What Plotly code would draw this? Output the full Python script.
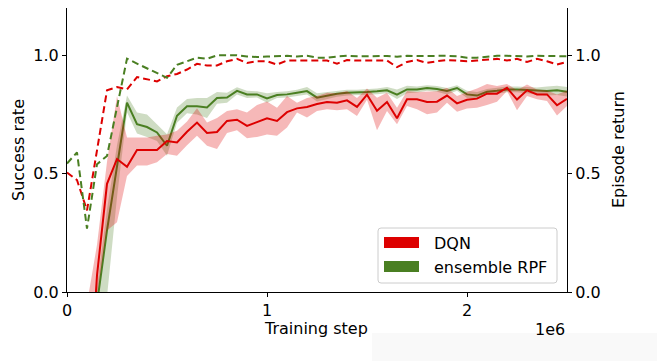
import plotly.graph_objects as go

# ---------------- data ----------------
steps = list(range(0, 2500001, 50000))

dqn_success = [-1.2, -1.0, -0.6, 0.07, 0.457, 0.562, 0.529, 0.600, 0.600, 0.600,
               0.638, 0.632, 0.677, 0.716, 0.672, 0.676, 0.723, 0.728, 0.702, 0.718,
               0.734, 0.723, 0.760, 0.776, 0.782, 0.794, 0.803, 0.800, 0.810, 0.782,
               0.834, 0.766, 0.803, 0.734, 0.814, 0.814, 0.803, 0.804, 0.830, 0.797,
               0.812, 0.817, 0.838, 0.838, 0.863, 0.813, 0.852, 0.835, 0.835, 0.789,
               0.816]
dqn_upper = [-0.8, -0.6, -0.05, 0.2, 0.55, 0.828, 0.653, 0.653, 0.653, 0.66,
             0.666, 0.681, 0.72, 0.776, 0.716, 0.735, 0.765, 0.772, 0.758, 0.79,
             0.805, 0.779, 0.828, 0.80, 0.82, 0.828, 0.842, 0.84, 0.849, 0.82,
             0.86, 0.821, 0.842, 0.779, 0.849, 0.845, 0.845, 0.848, 0.863, 0.828,
             0.845, 0.86, 0.879, 0.87, 0.879, 0.852, 0.877, 0.856, 0.851, 0.835,
             0.851]
dqn_lower = [-1.6, -1.4, -1.0, -0.02, 0.26, 0.295, 0.49, 0.534, 0.534, 0.548,
             0.583, 0.576, 0.62, 0.66, 0.618, 0.604, 0.672, 0.683, 0.65, 0.655,
             0.666, 0.66, 0.695, 0.758, 0.737, 0.765, 0.772, 0.768, 0.772, 0.744,
             0.812, 0.683, 0.765, 0.709, 0.786, 0.772, 0.751, 0.758, 0.80, 0.762,
             0.775, 0.779, 0.79, 0.804, 0.849, 0.768, 0.828, 0.814, 0.807, 0.746,
             0.786]

rpf_success = [-1.2, -1.0, -0.6, -0.05, 0.26, 0.53, 0.80, 0.709, 0.697, 0.674,
               0.618, 0.745, 0.785, 0.785, 0.78, 0.82, 0.822, 0.85, 0.835, 0.835,
               0.818, 0.832, 0.835, 0.842, 0.849, 0.821, 0.83, 0.838, 0.842, 0.842,
               0.845, 0.848, 0.852, 0.834, 0.856, 0.856, 0.862, 0.858, 0.849, 0.862,
               0.835, 0.83, 0.846, 0.85, 0.856, 0.856, 0.853, 0.85, 0.849, 0.852,
               0.846]
rpf_upper = [-0.9, -0.8, -0.5, 0.02, 0.35, 0.62, 0.83, 0.758, 0.75, 0.71,
             0.667, 0.78, 0.815, 0.82, 0.82, 0.845, 0.842, 0.865, 0.85, 0.848,
             0.84, 0.845, 0.848, 0.855, 0.866, 0.84, 0.845, 0.852, 0.855, 0.855,
             0.857, 0.86, 0.866, 0.856, 0.872, 0.868, 0.874, 0.87, 0.862, 0.874,
             0.85, 0.845, 0.858, 0.862, 0.868, 0.868, 0.866, 0.864, 0.868, 0.872,
             0.866]
rpf_lower = [-1.6, -1.4, -1.0, -0.3, -0.02, 0.40, 0.76, 0.67, 0.655, 0.638,
             0.576, 0.715, 0.755, 0.75, 0.735, 0.795, 0.80, 0.835, 0.82, 0.822,
             0.80, 0.82, 0.822, 0.83, 0.835, 0.805, 0.815, 0.825, 0.83, 0.83,
             0.833, 0.836, 0.84, 0.815, 0.84, 0.843, 0.85, 0.846, 0.835, 0.85,
             0.82, 0.815, 0.834, 0.838, 0.844, 0.844, 0.84, 0.836, 0.83, 0.832,
             0.826]

dqn_return = [0.505, 0.473, 0.345, 0.60, 0.852, 0.866, 0.856, 0.908, 0.90, 0.89,
              0.912, 0.921, 0.94, 0.964, 0.957, 0.957, 0.975, 0.985, 0.968, 0.975,
              0.975, 0.961, 0.978, 0.978, 0.978, 0.978, 0.978, 0.965, 0.98, 0.978,
              0.978, 0.978, 0.978, 0.95, 0.972, 0.98, 0.968, 0.975, 0.98, 0.978,
              0.975, 0.978, 0.98, 0.985, 0.978, 0.985, 0.972, 0.985, 0.975, 0.961,
              0.972]
rpf_return = [0.543, 0.59, 0.268, 0.54, 0.575, 0.78, 0.986, 0.965, 0.945, 0.925,
              0.905, 0.96, 0.975, 0.99, 0.985, 1.0, 1.0, 1.0, 0.995, 0.993,
              0.995, 0.998, 0.998, 0.995, 0.998, 0.99, 0.99, 0.995, 0.998, 0.996,
              0.996, 0.998, 0.997, 0.994, 0.998, 0.997, 0.998, 0.996, 0.998, 0.996,
              0.99, 0.99, 0.995, 0.998, 0.998, 0.996, 0.995, 0.998, 0.998, 0.995,
              0.996]

x_tickvals = [0, 1000000, 2000000]
x_ticktext = ["0", "1", "2"]
y_tickvals = [0.0, 0.5, 1.0]
y_ticktext = ["0.0", "0.5", "1.0"]
series_names = ["DQN", "ensemble RPF"]

# ---------------- style ----------------
RED = "#dd0000"
GREEN = "#4a7f22"
RED_FILL = "rgba(221,0,0,0.28)"
GREEN_FILL = "rgba(74,127,34,0.27)"
FONT = "DejaVu Sans"
FS = 16

W, H = 657, 361
L, R, T, B = 67, 90, 8, 69
PW, PH = W - L - R, H - T - B


def px(x):
    return (x - L) / PW


def py(y):
    return (H - B - y) / PH


fig = go.Figure()


def band(upper, lower, fill, yaxis="y"):
    fig.add_trace(go.Scatter(x=steps, y=upper, mode="lines", line=dict(width=0, color=fill),
                             showlegend=False, hoverinfo="skip", yaxis=yaxis))
    fig.add_trace(go.Scatter(x=steps, y=lower, mode="lines", line=dict(width=0, color=fill),
                             fill="tonexty", fillcolor=fill, showlegend=False,
                             hoverinfo="skip", yaxis=yaxis))


band(rpf_upper, rpf_lower, GREEN_FILL)
fig.add_trace(go.Scatter(x=steps, y=rpf_success, mode="lines",
                         line=dict(color=GREEN, width=2), showlegend=False))
band(dqn_upper, dqn_lower, RED_FILL)
fig.add_trace(go.Scatter(x=steps, y=dqn_success, mode="lines",
                         line=dict(color=RED, width=2), showlegend=False))

fig.add_trace(go.Scatter(x=steps, y=dqn_return, mode="lines", yaxis="y2",
                         line=dict(color=RED, width=2, dash="7px,4px"), showlegend=False))
fig.add_trace(go.Scatter(x=steps, y=rpf_return, mode="lines", yaxis="y2",
                         line=dict(color=GREEN, width=2, dash="7px,4px"), showlegend=False))

axis_common = dict(showgrid=False, zeroline=False, showline=True, linecolor="black",
                   linewidth=1.2, ticks="outside", ticklen=4, tickwidth=1.2,
                   tickcolor="black", tickfont=dict(family=FONT, size=FS, color="black"))

fig.update_layout(
    width=W, height=H,
    margin=dict(l=L, r=R, t=T, b=B, pad=0),
    plot_bgcolor="white", paper_bgcolor="white",
    font=dict(family=FONT, size=FS, color="black"),
    xaxis=dict(range=[0, 2500000], tickvals=x_tickvals, ticktext=x_ticktext, **axis_common),
    yaxis=dict(range=[0, 1.2], tickvals=y_tickvals, ticktext=y_ticktext, **axis_common),
    yaxis2=dict(range=[0, 1.2], tickvals=y_tickvals, ticktext=y_ticktext, overlaying="y",
                side="right", **axis_common),
    showlegend=False,
)

# faint grey strip at bottom right (present in the reference)
fig.add_shape(type="rect", xref="paper", yref="paper", x0=px(372), x1=px(657),
              y0=py(361), y1=py(333), fillcolor="#f9f9f9", line=dict(width=0), layer="below")


def label(text, x, y, angle=0, xanchor="center"):
    fig.add_annotation(text=text, xref="paper", yref="paper", x=px(x), y=py(y),
                       xanchor=xanchor, yanchor="middle", textangle=angle,
                       showarrow=False, font=dict(family=FONT, size=FS, color="black"))


# axis titles / offset text
label("Training step", 316, 328)
label("1e6", 550, 329)
label("Success rate", 18, 150, angle=-90)
label("Episode return", 618, 150, angle=-90)

# manual legend (rounded box + rectangular patches)
bx0, bx1, by0, by1, rad = 378, 557, 228, 283, 3


def rounded_path(x0, y0, x1, y1, r):
    rx = r / PW
    ry = r / PH
    X0, X1, Y0, Y1 = px(x0), px(x1), py(y1), py(y0)
    return (f"M {X0+rx},{Y0} L {X1-rx},{Y0} Q {X1},{Y0} {X1},{Y0+ry} "
            f"L {X1},{Y1-ry} Q {X1},{Y1} {X1-rx},{Y1} L {X0+rx},{Y1} "
            f"Q {X0},{Y1} {X0},{Y1-ry} L {X0},{Y0+ry} Q {X0},{Y0} {X0+rx},{Y0} Z")


fig.add_shape(type="path", xref="paper", yref="paper", path=rounded_path(bx0, by0, bx1, by1, rad),
              fillcolor="rgba(255,255,255,0.85)", line=dict(color="#cccccc", width=1), layer="above")
patch_rows = [(237, 248, RED, 243), (261, 272, GREEN, 267)]
for (y0, y1, col, ty), name in zip(patch_rows, series_names):
    fig.add_shape(type="rect", xref="paper", yref="paper", x0=px(384), x1=px(419),
                  y0=py(y1), y1=py(y0), fillcolor=col, line=dict(width=0), layer="above")
    label(name, 432, ty, xanchor="left")

fig.write_html("out.html", config={"displayModeBar": False},
               post_script="document.body.style.margin='0';document.body.style.overflow='hidden';")
